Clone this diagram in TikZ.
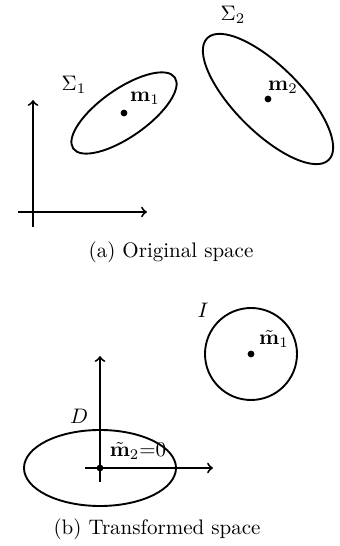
\documentclass[tikz,border=0pt]{standalone}
\usepackage{amsmath}
\begin{document}
\begin{tikzpicture}[x=0.476pt,y=0.476pt,
  line width=0.9pt,
  axis/.style={->},
  meandot/.style={fill},
  lab/.style={inner sep=0pt},
  capt/.style={inner sep=0pt}]
\useasboundingbox (0,0) rectangle (339,546);
% ---- (a) original space
\coordinate (o1x0) at (18,334);
\coordinate (o1x1) at (147,334);
\coordinate (o1y0) at (33,319);
\coordinate (o1y1) at (33,446);
\draw[axis] (o1x0) -- (o1x1);
\draw[axis] (o1y0) -- (o1y1);
\coordinate (m1) at (124,433);
\fill[meandot] (m1) circle [radius=3.4];
\draw (m1) ellipse [x radius=62, y radius=24, rotate=35];
\coordinate (m2) at (268,447);
\fill[meandot] (m2) circle [radius=3.4];
\draw (m2) ellipse [x radius=86, y radius=33, rotate=-45];
\node[lab] (s1) at (74,461) {$\Sigma_1$};
\node[lab] (lm1) at (145,448) {$\mathbf{m}_1$};
\node[lab] (s2) at (233,531) {$\Sigma_2$};
\node[lab] (lm2) at (283,459) {$\mathbf{m}_2$};
\node[capt] (ca) at (171,294) {(a) Original space};
% ---- (b) transformed space
\coordinate (o2x0) at (85,78);
\coordinate (o2x1) at (213,78);
\coordinate (o2y0) at (100,64);
\coordinate (o2y1) at (100,190);
\draw[axis] (o2x0) -- (o2x1);
\draw[axis] (o2y0) -- (o2y1);
\coordinate (mt2) at (100,78);
\fill[meandot] (mt2) circle [radius=3.4];
\draw (mt2) ellipse [x radius=76, y radius=38];
\coordinate (mt1) at (251,192);
\fill[meandot] (mt1) circle [radius=3.4];
\draw (mt1) circle [radius=46];
\node[lab] (ld) at (79,130) {$D$};
\node[lab] (lmt2) at (138,95) {$\tilde{\mathbf{m}}_2{=}0$};
\node[lab] (li) at (203,236) {$I$};
\node[lab] (lmt1) at (274,207) {$\tilde{\mathbf{m}}_1$};
\node[capt] (cb) at (157,17) {(b) Transformed space};
\end{tikzpicture}
\end{document}
